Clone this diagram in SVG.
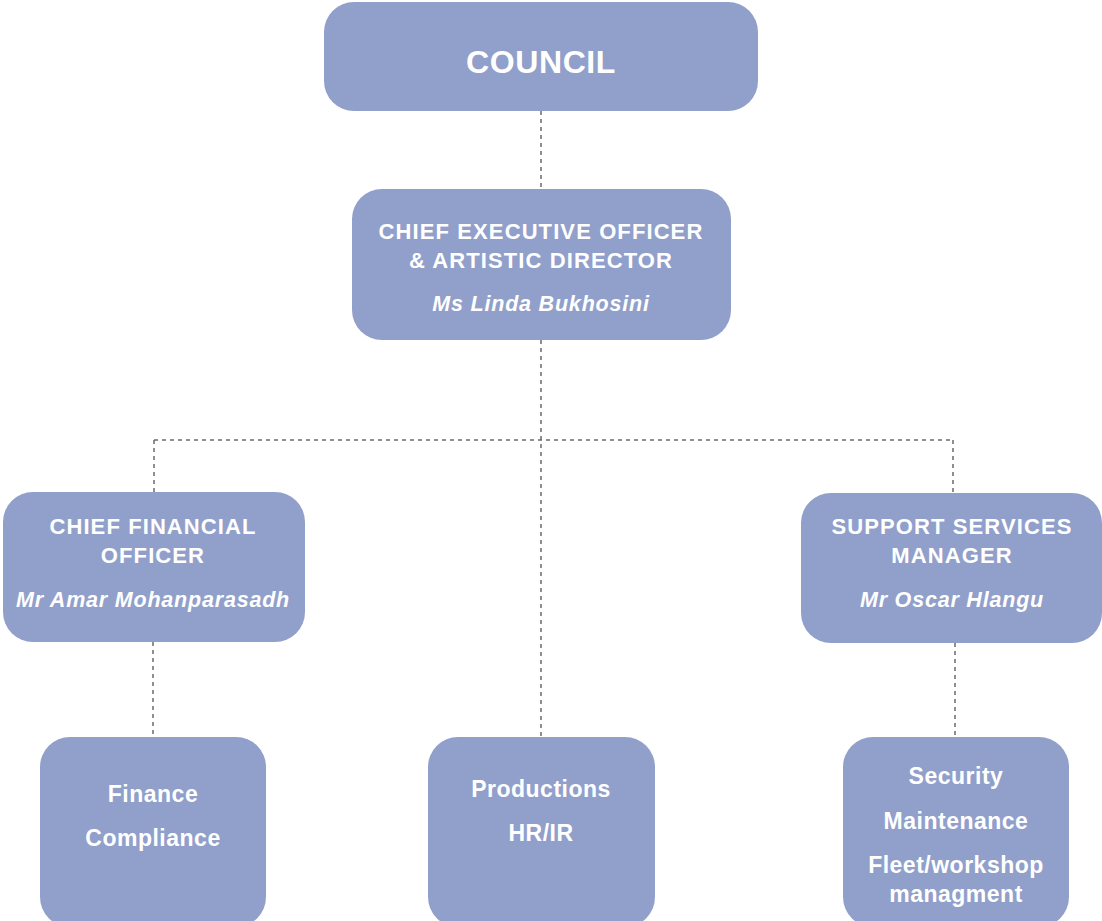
<svg xmlns="http://www.w3.org/2000/svg" width="1102" height="921" viewBox="0 0 1102 921">
<style>
.box{fill:#919fcb;}
.t{font-family:"Liberation Sans",Arial,sans-serif;font-weight:bold;fill:#ffffff;text-anchor:middle;font-size:22px;letter-spacing:1.1px;}
.n{font-style:italic;font-size:21.5px;letter-spacing:0.8px;}
.big{font-size:32px;letter-spacing:0.6px;}
.s{font-size:23px;letter-spacing:0.5px;}
.c{fill:none;stroke:#6b6b6b;stroke-width:1.5;stroke-dasharray:4 4;}
</style>
<rect width="1102" height="921" fill="#ffffff"/>
<g id="connectors">
<path class="c" d="M541 111 V189"/>
<path class="c" d="M541 340 V737"/>
<path class="c" d="M154 440 H953"/>
<path class="c" d="M154 440 V492"/>
<path class="c" d="M953 440 V493"/>
<path class="c" d="M153 642 V737"/>
<path class="c" d="M955 643 V737"/>
</g>
<g id="council">
<rect class="box" x="324" y="2" width="434" height="109" rx="30"/>
<text class="t big" x="541" y="73">COUNCIL</text>
</g>
<g id="ceo">
<rect class="box" x="352" y="189" width="379" height="151" rx="30"/>
<text class="t" x="541" y="239">CHIEF EXECUTIVE OFFICER</text>
<text class="t" x="541" y="268">&amp; ARTISTIC DIRECTOR</text>
<text class="t n" x="541" y="311">Ms Linda Bukhosini</text>
</g>
<g id="cfo">
<rect class="box" x="3" y="492" width="302" height="150" rx="30"/>
<text class="t" x="153" y="534">CHIEF FINANCIAL</text>
<text class="t" x="153" y="563">OFFICER</text>
<text class="t n" x="153" y="607">Mr Amar Mohanparasadh</text>
</g>
<g id="ssm">
<rect class="box" x="801" y="493" width="301" height="150" rx="30"/>
<text class="t" x="952" y="534">SUPPORT SERVICES</text>
<text class="t" x="952" y="563">MANAGER</text>
<text class="t n" x="952" y="607">Mr Oscar Hlangu</text>
</g>
<g id="finance">
<rect class="box" x="40" y="737" width="226" height="190" rx="30"/>
<text class="t s" x="153" y="802">Finance</text>
<text class="t s" x="153" y="846">Compliance</text>
</g>
<g id="productions">
<rect class="box" x="428" y="737" width="227" height="190" rx="30"/>
<text class="t s" x="541" y="797">Productions</text>
<text class="t s" x="541" y="841">HR/IR</text>
</g>
<g id="support">
<rect class="box" x="843" y="737" width="226" height="190" rx="30"/>
<text class="t s" x="956" y="784">Security</text>
<text class="t s" x="956" y="829">Maintenance</text>
<text class="t s" x="956" y="873">Fleet/workshop</text>
<text class="t s" x="956" y="902">managment</text>
</g>
</svg>
